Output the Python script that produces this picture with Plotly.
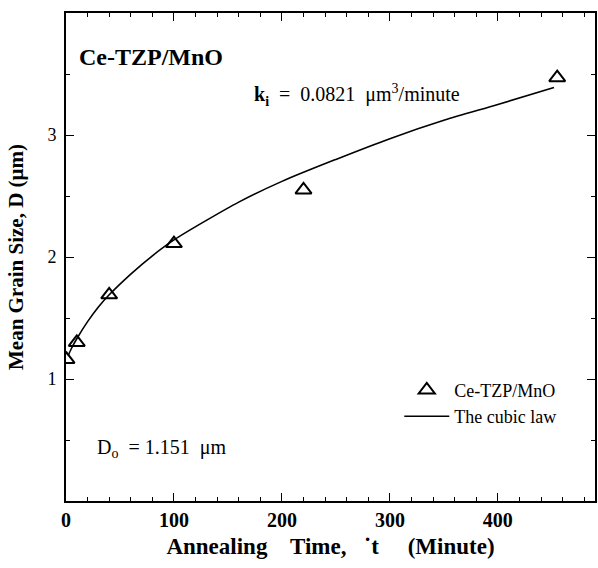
import plotly.graph_objects as go

time_min = [0.5, 10, 40, 100, 220, 455]
grain_um = [1.16, 1.30, 1.69, 2.11, 2.55, 3.47]

# fitted cubic-law curve
fit_t = [2, 5, 10, 20, 30, 40, 60, 80, 100, 130, 160, 200, 250, 300, 350, 400, 452]
fit_D = [1.19, 1.25, 1.33, 1.47, 1.59, 1.69, 1.86, 2.01, 2.14, 2.30, 2.45, 2.62, 2.80, 2.97, 3.12, 3.25, 3.39]

x_tick_vals = [0, 100, 200, 300, 400]
x_tick_text = ["0", "100", "200", "300", "400"]
y_tick_vals = [1, 2, 3]
y_tick_text = ["1", "2", "3"]

SERIF = "Liberation Serif"
NB = "\u00a0"

fig = go.Figure()
fig.add_trace(go.Scatter(
    x=time_min, y=grain_um, mode="markers", name="Ce-TZP/MnO",
    marker=dict(symbol="triangle-up-open", size=14, color="black",
                line=dict(width=2, color="black")),
))
fig.add_trace(go.Scatter(
    x=fit_t, y=fit_D, mode="lines", name="The cubic law",
    line=dict(color="black", width=1.6, shape="spline", smoothing=0.8),
))

axis_common = dict(
    showline=True, linecolor="black", linewidth=1.8, mirror="ticks",
    ticks="inside", ticklen=8, tickwidth=1.4, tickcolor="black",
    showgrid=False, zeroline=False,
)

fig.update_xaxes(
    range=[0, 490], tickmode="array", tickvals=x_tick_vals, ticktext=x_tick_text,
    tickfont=dict(family=SERIF, size=20, color="black", weight="bold"),
    minor=dict(dtick=20, ticks="inside", ticklen=4, tickwidth=1.2, tickcolor="black"),
    title=dict(text="Annealing" + NB * 3 + " Time," + NB * 2 + " \u02d9t" + NB * 4 + " (Minute)",
               font=dict(family=SERIF, size=23, color="black", weight="bold"), standoff=8),
    **axis_common,
)
fig.update_yaxes(
    range=[0, 4], tickmode="array", tickvals=y_tick_vals, ticktext=y_tick_text,
    tickfont=dict(family=SERIF, size=18, color="black"),
    ticklabelstandoff=4,
    minor=dict(dtick=0.5, ticks="inside", ticklen=4, tickwidth=1.2, tickcolor="black"),
    title=dict(text="Mean Grain Size, D (μm)",
               font=dict(family=SERIF, size=21, color="black", weight="bold"), standoff=18),
    **axis_common,
)

fig.add_annotation(xref="paper", yref="paper", x=0.021, y=0.91, xanchor="left", yanchor="middle",
                   text="<b>Ce-TZP/MnO</b>", showarrow=False,
                   font=dict(family=SERIF, size=24, color="black"))
fig.add_annotation(xref="x", yref="y", x=172, y=3.33, xanchor="left", yanchor="middle",
                   text="<b>k<sub>i</sub></b>" + NB * 2 + "=" + NB * 2 + "0.0821" + NB * 2
                        + "μm<sup>3</sup>/minute", showarrow=False,
                   font=dict(family=SERIF, size=20, color="black"))
fig.add_annotation(xref="x", yref="y", x=27, y=0.43, xanchor="left", yanchor="middle",
                   text="D<sub>o</sub>" + NB * 2 + "=" + NB + "1.151" + NB * 2 + "μm", showarrow=False,
                   font=dict(family=SERIF, size=20, color="black"))

fig.update_layout(
    width=598, height=568,
    margin=dict(l=66, r=1, t=13, b=67),
    paper_bgcolor="white", plot_bgcolor="white",
    showlegend=True,
    legend=dict(x=0.63, y=0.265, xanchor="left", yanchor="top",
                bgcolor="rgba(0,0,0,0)", borderwidth=0,
                font=dict(family=SERIF, size=18, color="black"),
                itemwidth=45, tracegroupgap=0),
)

fig.write_html("out.html")
